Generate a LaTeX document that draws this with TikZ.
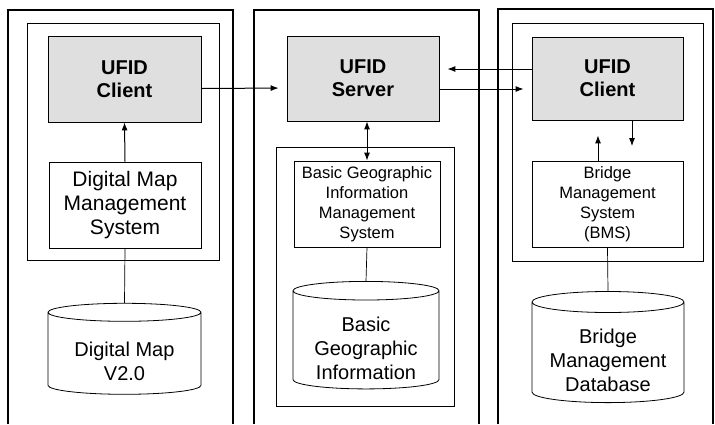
\documentclass[tikz,border=0pt]{standalone}
\usepackage{fontspec}
\setmainfont{Liberation Sans}
\usetikzlibrary{shapes.geometric,arrows.meta}
\newcommand{\dbpad}{\rule{0pt}{31pt}}
\begin{document}
\begin{tikzpicture}[x=1pt,y=-1pt,
  panel/.style={line width=1.1pt},
  innerbox/.style={draw,line width=0.8pt},
  ufid/.style={draw,fill=gray!25,line width=0.8pt,minimum width=153pt,minimum height=86pt,align=center,inner sep=0pt,font=\fontsize{20}{23}\selectfont\bfseries},
  sysbig/.style={draw,fill=white,line width=0.8pt,minimum width=152pt,minimum height=86pt,align=center,inner sep=0pt,font=\fontsize{21}{24}\selectfont},
  syssmall/.style={draw,fill=white,line width=0.8pt,minimum height=86pt,align=center,inner sep=0pt,font=\fontsize{16.5}{20}\selectfont},
  db/.style={cylinder,shape border rotate=90,draw,fill=white,line width=0.8pt,aspect=0.18,align=center,inner sep=0pt,font=\fontsize{20}{24}\selectfont},
  arr/.style={line width=1pt,-{Latex[length=8pt,width=6pt]}},
  conn/.style={line width=0.7pt}
]
\useasboundingbox (0,0) rectangle (715,424);
% outer panels (open at the bottom)
\draw[panel] (8,424) -- (8,10) -- (233,10) -- (233,424);
\draw[panel] (254,424) -- (254,10) -- (479,10) -- (479,424);
\draw[panel] (498,424) -- (498,9) -- (713,9) -- (713,424);
% inner boxes
\draw[innerbox] (27,23) rectangle (219,260);
\draw[innerbox] (276,147) rectangle (454,406);
\draw[innerbox] (512,23) rectangle (703,261);
% left column
\node[ufid] (lc) at (124.5,79) {UFID\\Client};
\node[sysbig] (dm) at (125,205) {Digital Map\\Management\\System};
\node[db,minimum width=153pt,minimum height=91pt] (cyl1) at (124.5,353.5) {\dbpad Digital Map\\V2.0};
% middle column
\node[ufid,minimum width=152pt,minimum height=85pt] (srv) at (363,78.5) {UFID\\Server};
\node[syssmall,minimum width=146pt] (bg) at (367,204) {Basic Geographic\\Information\\Management\\System};
\node[db,minimum width=146pt,minimum height=90pt] (cyl2) at (366,340) {\dbpad Basic\\Geographic\\Information};
% right column
\node[ufid,minimum width=151pt,minimum height=83pt] (rc) at (607.5,78.5) {UFID\\Client};
\node[syssmall,minimum width=151pt] (bms) at (607.5,204.5) {Bridge\\Management\\System\\(BMS)};
\node[db,minimum width=152pt,minimum height=89pt] (cyl3) at (608,352.5) {\dbpad Bridge\\Management\\Database};
% connectors
\draw[arr,shorten >=8pt] ([yshift=-9.5pt]lc.east) -- ([yshift=-9.5pt]srv.west);
\draw[arr,shorten >=8pt] ([yshift=9.5pt]rc.west) -- ([yshift=9.5pt]srv.east);
\draw[arr,shorten >=8pt] ([yshift=-10.5pt]srv.east) -- ([yshift=-10.5pt]rc.west);
\draw[arr] (dm.north) -- (lc.south);
\draw[line width=1pt,{Latex[length=8pt,width=6pt]}-{Latex[length=8pt,width=6pt]}] (bg.north |- srv.south) -- (bg.north);
\draw[arr,shorten >=15pt] ([xshift=24.5pt]rc.south) -- ([xshift=24.5pt]bms.north);
\draw[arr,shorten >=15pt] ([xshift=-9.5pt]bms.north) -- ([xshift=-9.5pt]rc.south);
\draw[conn] (dm.south) -- (cyl1.north);
\draw[conn] (bg.south) -- (cyl2.north);
\draw[conn] (bms.south) -- (cyl3.north);
\end{tikzpicture}
\end{document}
